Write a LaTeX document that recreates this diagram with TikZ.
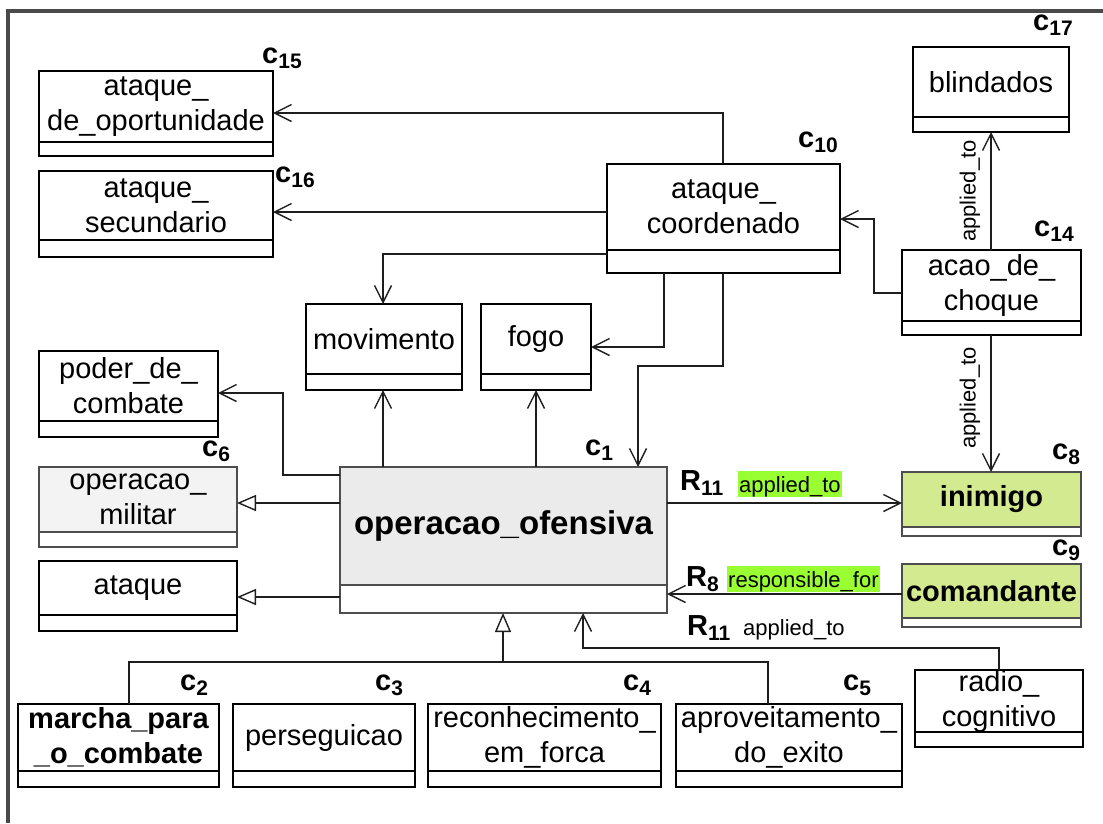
\documentclass[tikz,border=0pt]{standalone}
\usepackage{fontspec}
\setmainfont{Liberation Sans}
\usetikzlibrary{arrows.meta}

\definecolor{frameC}{HTML}{4A4A4A}
\definecolor{lineC}{HTML}{1E1E1E}
\definecolor{grayBorder}{HTML}{4D4D4D}
\definecolor{mainFill}{HTML}{EBEBEB}
\definecolor{superFill}{HTML}{F3F3F3}
\definecolor{entityFill}{HTML}{D3EA90}
\definecolor{roleHl}{HTML}{99FF33}

\tikzset{
  frameline/.style={line width=4pt, draw=frameC},
  assoc/.style={draw=lineC, line width=1.4pt, -{Straight Barb[length=17pt,width=17pt]}},
  plainline/.style={draw=lineC, line width=1.4pt},
  gen/.style={draw=lineC, line width=1.4pt, -{Triangle[length=19pt,width=16pt,fill=white]}},
  classname/.style={align=center, inner sep=0pt, font=\fontsize{29}{35}\selectfont},
  clabel/.style={inner sep=0pt, anchor=base west, font=\fontsize{29}{35}\selectfont\bfseries},
  rolename/.style={inner sep=0pt, anchor=base west, font=\fontsize{22}{26}\selectfont},
  rolehl/.style={rolename, fill=roleHl, inner xsep=1pt, inner ysep=0pt, text height=21pt, text depth=5pt},
}

% bold class tag with lowered index
\newcommand\clab[2]{#1\raisebox{-5pt}{\fontsize{21}{21}\selectfont\bfseries #2}}

% UML class box: name, left, top, right, bottom, divider, name fill, border colour, text
\newcommand\umlclass[9]{%
  \fill[#7] (#2,#3) rectangle (#4,#6);
  \fill[white] (#2,#6) rectangle (#4,#5);
  \node[draw=#8, line width=2pt, inner sep=0pt, outer sep=0pt,
        minimum width={(#4-#2)*1pt}, minimum height={(#5-#3)*1pt}]
        (#1) at ({(#2+#4)/2},{(#3+#5)/2}) {};
  \draw[draw=#8, line width=2pt] (#1.west |- 0,#6) -- (#1.east |- 0,#6);
  \node[classname] (#1-name) at ({(#2+#4)/2},{(#3+#6)/2}) {#9};
}

\begin{document}
\begin{tikzpicture}[x=1pt, y=-1pt]
\useasboundingbox (0,0) rectangle (1103,823);

% outer frame (top and left edges)
\draw[frameline] (8,823) -- (8,11) -- (1103,11);

% classes
\umlclass{opor}{39}{71}{273}{156}{142}{white}{black}{ataque\_\\de\_oportunidade}
\umlclass{secund}{39}{171}{273}{257}{240}{white}{black}{ataque\_\\secundario}
\umlclass{coord}{607}{164}{840}{273}{250}{white}{black}{ataque\_\\coordenado}
\umlclass{blind}{913}{47}{1069}{132}{117}{white}{black}{blindados}
\umlclass{choque}{902}{250}{1081}{335}{321}{white}{black}{acao\_de\_\\choque}
\umlclass{movim}{306}{304}{462}{390}{374}{white}{black}{movimento}
\umlclass{fogo}{481}{304}{591}{390}{374}{white}{black}{fogo}
\umlclass{poder}{39}{351}{218}{437}{421}{white}{black}{poder\_de\_\\combate}
\umlclass{militar}{39}{467}{237}{547}{532}{superFill}{grayBorder}{operacao\_\\militar}
\umlclass{ataque}{39}{561}{237}{631}{615}{white}{black}{ataque}
\umlclass{ofens}{340}{467}{667}{613}{585}{mainFill}{grayBorder}{\fontsize{33}{38}\selectfont\bfseries operacao\_ofensiva}
\umlclass{inimigo}{902}{472}{1081}{536}{527}{entityFill}{grayBorder}{\bfseries inimigo}
\umlclass{comand}{902}{564}{1081}{627}{618}{entityFill}{grayBorder}{\bfseries comandante}
\umlclass{radio}{915}{670}{1083}{747}{732}{white}{black}{radio\_\\cognitivo}
\umlclass{marcha}{18}{704}{219}{787}{771}{white}{black}{\bfseries marcha\_para\\\bfseries \_o\_combate}
\umlclass{persegu}{233}{704}{415}{787}{771}{white}{black}{perseguicao}
\umlclass{recon}{428}{704}{661}{787}{771}{white}{black}{reconhecimento\_\\em\_forca}
\umlclass{aprov}{676}{704}{902}{787}{771}{white}{black}{aproveitamento\_\\do\_exito}

% class tags
\node[clabel] (t15) at (262,63)  {\clab{c}{15}};
\node[clabel] (t16) at (275,182) {\clab{c}{16}};
\node[clabel] (t10) at (798,147) {\clab{c}{10}};
\node[clabel] (t17) at (1033,30) {\clab{c}{17}};
\node[clabel] (t14) at (1034,236) {\clab{c}{14}};
\node[clabel] (t1)  at (585,455) {\clab{c}{1}};
\node[clabel] (t6)  at (202,456) {\clab{c}{6}};
\node[clabel] (t8)  at (1052,459) {\clab{c}{8}};
\node[clabel] (t9)  at (1052,555) {\clab{c}{9}};
\node[clabel] (t2)  at (180,690) {\clab{c}{2}};
\node[clabel] (t3)  at (375,690) {\clab{c}{3}};
\node[clabel] (t4)  at (623,690) {\clab{c}{4}};
\node[clabel] (t5)  at (843,690) {\clab{c}{5}};

% relations from ataque_coordenado
\draw[assoc] (coord.north -| 723,0) |- (opor.east |- 0,113);
\draw[assoc] (coord.west |- 0,212) -- (secund.east |- 0,212);
\draw[assoc] (coord.west |- 0,254) -| (movim.north -| 383,0);
\draw[assoc] (coord.south -| 664,0) |- (fogo.east |- 0,347);
\coordinate (bend) at (723,366);
\draw[assoc] (coord.south -| bend) -- (bend) -| (ofens.north -| 638,0);

% relations from acao_de_choque
\coordinate (kink) at (874,219);
\draw[assoc] (choque.west |- 0,293) -| (kink) -- (coord.east |- kink);
\draw[assoc] (choque.north -| 991,0) -- (blind.south -| 991,0);
\draw[assoc] (choque.south -| 991,0) -- (inimigo.north -| 991,0);
\node[rolename, anchor=center, rotate=90] (lblBlind) at (970,191) {applied\_to};
\node[rolename, anchor=center, rotate=90] (lblInim) at (970,398) {applied\_to};

% relations from operacao_ofensiva
\coordinate (pk) at (283,393);
\draw[assoc] (ofens.west |- 0,475) -| (pk) -- (poder.east |- pk);
\draw[gen] (ofens.west |- 0,503) -- (militar.east |- 0,503);
\draw[gen] (ofens.west |- 0,597) -- (ataque.east |- 0,597);
\draw[assoc] (ofens.north -| 383,0) -- (movim.south -| 383,0);
\draw[assoc] (ofens.north -| 536,0) -- (fogo.south -| 536,0);
\draw[assoc] (ofens.east |- 0,503) -- (inimigo.west |- 0,503);
\draw[assoc] (comand.west |- 0,594) -- (ofens.east |- 0,594);

% radio_cognitivo
\coordinate (rk) at (583,648);
\draw[assoc] (radio.north) |- (rk) -- (ofens.south -| rk);

% specialisations
\coordinate (join) at (503,662);
\draw[plainline] (marcha.north -| 129,0) |- (join) -| (aprov.north -| 768,0);
\draw[plainline] (persegu.north -| 323,0) -- (persegu.north -| 323,0 |- join);
\draw[plainline] (recon.north -| 544,0) -- (recon.north -| 544,0 |- join);
\draw[gen] (join) -- (ofens.south -| join);

% role labels
\node[clabel] (r11a) at (680,490) {\clab{R}{11}};
\node[rolehl] (hlA) at (738,492) {applied\_to};
\node[clabel] (r8) at (686,586) {\clab{R}{8}};
\node[rolehl] (hlR) at (727,587) {responsible\_for};
\node[clabel] (r11b) at (687,635) {\clab{R}{11}};
\node[rolename] (lblRadio) at (743,635) {applied\_to};

\end{tikzpicture}
\end{document}
